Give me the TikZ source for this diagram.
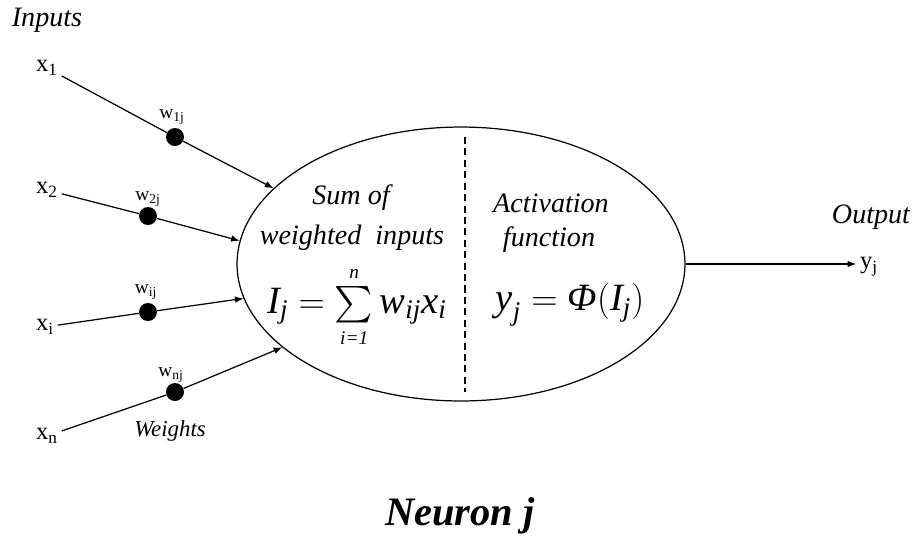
\documentclass[tikz,border=0pt]{standalone}
\usepackage{amsmath}
\usepackage{fontspec}
\setmainfont{Liberation Serif}
\usepackage{tikz}
\usetikzlibrary{shapes.geometric}

\newcommand{\ti}[1]{\textit{#1}}
\newcommand{\sumlim}[1]{\mbox{\fontsize{11}{11}\selectfont\itshape #1}}

\begin{document}
\begin{tikzpicture}[
  x=0.02cm, y=-0.02cm,
  neuron/.style={ellipse,draw,line width=0.7pt,
                 minimum width=8.96cm, minimum height=5.48cm},
  wdot/.style={circle,fill=black,minimum size=0.36cm,inner sep=0pt},
  inp/.style={font=\fontsize{14}{16}\selectfont,inner sep=2pt},
  wlab/.style={font=\fontsize{11}{13}\selectfont,inner sep=1pt},
  itlab/.style={font=\fontsize{16}{18}\selectfont\itshape,inner sep=1pt},
  link/.style={line width=0.7pt}
]
  \useasboundingbox (0,0) rectangle (920,539);

  \node[neuron] (n) at (461,264) {};
  \draw[dash pattern=on 4pt off 2.5pt, line width=0.7pt] (465,137) -- (465,392);

  \node[itlab] (inputs) at (47,20) {Inputs};
  \node[inp] (x1) at (47,68)  {x\textsubscript{1}};
  \node[inp] (x2) at (47,190) {x\textsubscript{2}};
  \node[inp] (xi) at (45,327) {x\textsubscript{i}};
  \node[inp] (xn) at (47,436) {x\textsubscript{n}};

  \node[wdot] (w1) at (175,137) {};
  \node[wdot] (w2) at (148,216) {};
  \node[wdot] (wi) at (148,312) {};
  \node[wdot] (wn) at (175,392) {};

  \node[wlab] at (172,117) {w\textsubscript{1j}};
  \node[wlab] at (148,199) {w\textsubscript{2j}};
  \node[wlab] at (146,292) {w\textsubscript{ij}};
  \node[wlab] at (171,375) {w\textsubscript{nj}};
  \node[itlab, font=\fontsize{13}{15}\selectfont\itshape] (weights) at (170,431) {Weights};

  \draw[link] (x1) -- (w1);
  \draw[link,-latex] (w1) -- (n.158.5);
  \draw[link] (x2) -- (w2);
  \draw[link,-latex] (w2) -- (n.174);
  \draw[link] (xi) -- (wi);
  \draw[link,-latex] (wi) -- (n.-171.6);
  \draw[link] (xn) -- (wn);
  \draw[link,-latex] (wn) -- (n.-155);

  \node[itlab] (sum1) at (351,198) {Sum of};
  \node[itlab] (sum2) at (352,238) {weighted\ \ inputs};
  \node[font=\fontsize{22}{26}\selectfont] (fsum) at (357,307)
    {$\ti{I}_{\ti{j}} = \textstyle\sum\limits_{\sumlim{i=1}}^{\sumlim{n}} \ti{w}_{\ti{ij}}\ti{x}_{\ti{i}}$};

  \node[itlab] (act1) at (551,203) {Activation};
  \node[itlab] (act2) at (549,240) {function};
  \node[font=\fontsize{22}{26}\selectfont] (fact) at (570,305)
    {$\ti{y}_{\ti{j}} = \ti{Φ}(\ti{I}_{\ti{j}})$};

  \node[itlab] (outp) at (871,217) {Output};
  \node[inp] (y) at (869,267) {y\textsubscript{j}};
  \draw[link,-latex] (n.east) -- (n.east -| y.west);

  \node[font=\fontsize{23}{27}\selectfont\bfseries\itshape] (title) at (460,516) {Neuron j};
\end{tikzpicture}
\end{document}
